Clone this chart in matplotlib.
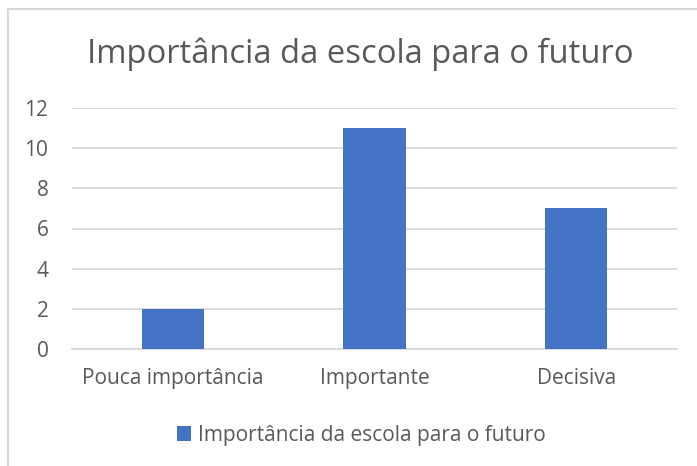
import matplotlib.pyplot as plt
from matplotlib.patches import Rectangle

categorias = ["Pouca importância", "Importante", "Decisiva"]
valores = [2, 11, 7]
titulo = "Importância da escola para o futuro"

plt.rcParams['font.family'] = ['Open Sans', 'DejaVu Sans']
cinza = '#595959'

fig = plt.figure(figsize=(6.97, 4.66), dpi=100)
# chart border (Excel-style)
fig.patches.append(Rectangle((8 / 697, -0.1), 1.2, 1 - 9 / 466 + 0.1,
                             transform=fig.transFigure, fill=False,
                             edgecolor='#d9d9d9', linewidth=1.5))

ax = fig.add_axes([72 / 697, 1 - 349 / 466, (677 - 72) / 697, (349 - 108) / 466])
pos = range(len(categorias))
ax.bar(pos, valores, width=0.31, color='#4472C4', label=titulo, zorder=3)
ax.set_xlim(-0.5, 2.5)
ax.set_ylim(0, 12)
ax.set_yticks(range(0, 13, 2))
ax.set_xticks(list(pos))
ax.set_xticklabels(categorias)
ax.grid(axis='y', color='#d9d9d9', linewidth=1.3, zorder=0)
for s in ['top', 'right', 'left']:
    ax.spines[s].set_visible(False)
ax.spines['bottom'].set_color('#d9d9d9')
ax.spines['bottom'].set_linewidth(1.3)
ax.tick_params(axis='both', length=0, labelsize=15, colors=cinza)
ax.tick_params(axis='y', pad=17)
ax.tick_params(axis='x', pad=14)

fig.text(0.517, 1 - 54 / 466, titulo, ha='center', va='center',
         fontsize=23.6, color=cinza)
fig.legend(loc='center', bbox_to_anchor=(0.518, 1 - 435 / 466), frameon=False,
           fontsize=15, labelcolor=cinza, handlelength=0.7, handleheight=0.7,
           handletextpad=0.3)

fig.savefig('out.png', dpi=100)
